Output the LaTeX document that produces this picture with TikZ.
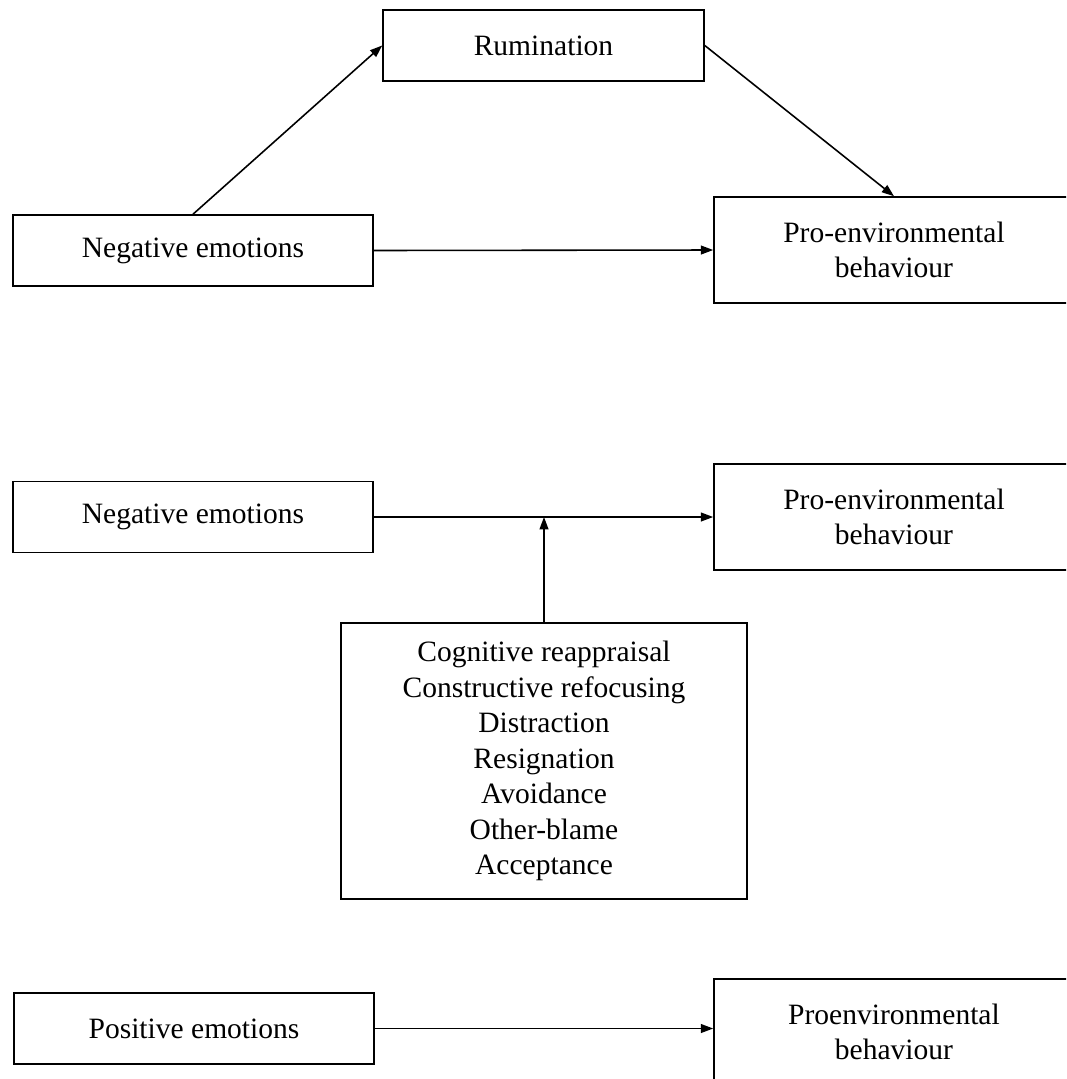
\documentclass[tikz,border=0pt]{standalone}
\usepackage{fontspec}
\setmainfont{Liberation Serif}
\usetikzlibrary{arrows.meta}

\begin{document}
\begin{tikzpicture}[
  factor/.style={draw, line width=0.9pt, minimum width=7.2cm, minimum height=1.42cm, inner sep=0pt, align=center, font=\fontsize{16.8}{20.2}\selectfont},
  outcome/.style={factor, minimum height=2.12cm},
  mediator/.style={factor, minimum width=6.42cm},
  strategy/.style={factor, minimum width=8.12cm, minimum height=5.52cm},
  arrow/.style={-{Triangle[length=7pt,width=5pt]}, line width=0.9pt}
]
\useasboundingbox (0,0) rectangle (21.32,-21.58);
\clip (0,0) rectangle (21.32,-21.58);

\node[mediator] (rum)  at (10.87,-0.91)  {Rumination};
\node[factor]   (neg1) at (3.86,-5.01)   {Negative emotions};
\node[outcome]  (pro1) at (17.88,-5.00)  {Pro-environmental\\behaviour};

\node[factor]   (neg2) at (3.86,-10.34)  {Negative emotions};
\node[outcome]  (pro2) at (17.88,-10.34) {Pro-environmental\\behaviour};
\node[strategy] (reg)  at (10.88,-15.22) {Cognitive reappraisal\\Constructive refocusing\\Distraction\\Resignation\\Avoidance\\Other-blame\\Acceptance};

\node[factor]   (pos)  at (3.88,-20.57)  {Positive emotions};
\node[outcome]  (pro3) at (17.88,-20.64) {Proenvironmental\\behaviour};

\coordinate (mod) at (reg.north |- neg2.east);

\draw[arrow] (neg1.north) -- (rum.west);
\draw[arrow] (rum.east) -- (pro1.north);
\draw[arrow] (neg1.east) -- (pro1.west);
\draw[arrow] (neg2.east) -- (pro2.west);
\draw[arrow] (reg.north) -- (mod);
\draw[arrow] (pos.east) -- (pos.east -| pro3.west);
\end{tikzpicture}
\end{document}
